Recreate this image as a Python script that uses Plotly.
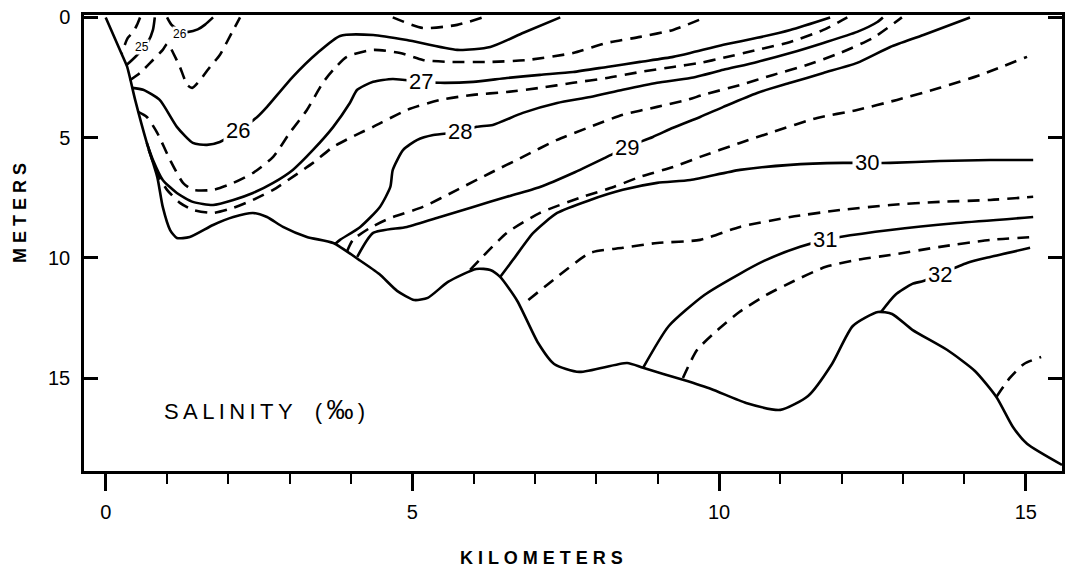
import plotly.graph_objects as go


# sea floor profile (km, m)
floor_km = [0, 0.28, 0.35, 0.48, 0.67, 0.84, 0.93, 1.05, 1.16, 1.37, 1.75, 2.08, 2.40, 2.63, 2.89,
            3.28, 3.71, 4.13, 4.46, 4.75, 5.03, 5.25, 5.58, 6.04, 6.27, 6.43, 6.71, 7.05, 7.31,
            7.72, 8.50, 8.76, 9.41, 9.87, 10.44, 11.00, 11.45, 11.84, 12.18, 12.59, 12.82, 13.15,
            13.72, 14.17, 14.52, 14.79, 15.02, 15.59]
floor_m = [0, 1.64, 2.06, 3.43, 5.22, 6.63, 7.88, 8.84, 9.17, 9.13, 8.63, 8.30, 8.13, 8.30, 8.71,
           9.13, 9.38, 10.08, 10.67, 11.37, 11.75, 11.66, 11.00, 10.46, 10.50, 10.79, 11.79, 13.54,
           14.41, 14.74, 14.37, 14.57, 15.07, 15.45, 16.03, 16.32, 15.74, 14.41, 12.83, 12.25, 12.33,
           12.99, 13.83, 14.70, 15.78, 17.03, 17.73, 18.61]

# isohalines, solid = whole values, dashed = half values
d245_km = [0.56, 0.51, 0.45, 0.36, 0.26]
d245_m = [0, 0.31, 0.60, 0.85, 1.5]

s25_km = [0.80, 0.77, 0.69, 0.56, 0.43, 0.33]
s25_m = [0, 0.52, 1.02, 1.43, 1.77, 2.0]

d255_km = [0.39, 0.56, 0.77, 0.93, 1.00, 1.05, 1.10, 1.21, 1.33, 1.41, 1.54, 1.70, 1.86, 2.08, 2.19]
d255_m = [2.62, 2.31, 1.77, 1.35, 1.10, 1.23, 1.48, 2.06, 2.81, 2.93, 2.60, 2.06, 1.56, 0.52, 0]

s26top_km = [1.00, 1.07, 1.20, 1.35, 1.50, 1.62, 1.75]
s26top_m = [0, 0.30, 0.55, 0.60, 0.50, 0.30, 0]

s26_km = [0.43, 0.61, 0.88, 1.16, 1.42, 1.65, 1.86, 2.16, 2.47, 2.63, 3.05, 3.45, 3.82, 4.36, 4.91,
          5.73, 6.27, 6.81, 7.41]
s26_m = [2.93, 3.01, 3.43, 4.55, 5.22, 5.30, 5.18, 4.72, 4.14, 3.72, 2.47, 1.48, 0.77, 0.73, 0.94,
         1.35, 1.23, 0.64, 0]

d265top_km = [4.68, 5.17, 5.73, 6.15]
d265top_m = [0, 0.44, 0.31, 0]

d265_km = [0.53, 0.67, 0.84, 1.05, 1.26, 1.42, 1.75, 2.08, 2.40, 2.73, 3.00, 3.28, 3.54, 3.71, 3.93,
           4.36, 4.80, 5.17, 5.61, 6.27, 6.87, 7.62, 8.17, 8.71, 9.25, 9.77]
d265_m = [3.93, 4.14, 4.80, 5.93, 6.88, 7.17, 7.17, 6.88, 6.47, 5.80, 4.80, 3.85, 2.72, 2.18, 1.64,
          1.35, 1.48, 1.77, 1.85, 1.85, 1.77, 1.48, 1.06, 0.81, 0.52, 0]

s27_km = [0.67, 0.77, 0.93, 1.16, 1.42, 1.75, 2.08, 2.40, 2.73, 3.05, 3.38, 3.71, 3.98, 4.10, 4.36,
          4.68, 5.14, 5.45, 5.99, 6.54, 7.08, 7.62, 8.17, 8.71, 9.25, 9.53, 10.07, 10.62, 11.16, 11.81]
s27_m = [5.22, 5.93, 6.76, 7.30, 7.67, 7.80, 7.59, 7.30, 6.88, 6.34, 5.51, 4.55, 3.56, 3.01, 2.68,
         2.56, 2.68, 2.72, 2.68, 2.52, 2.39, 2.27, 2.06, 1.85, 1.64, 1.48, 1.14, 0.85, 0.52, 0]

d275_km = [0.70, 0.84, 1.00, 1.21, 1.42, 1.75, 2.08, 2.40, 2.73, 3.05, 3.38, 3.71, 4.15, 4.36, 4.91,
           5.45, 5.99, 6.54, 7.08, 7.62, 8.17, 8.71, 9.25, 9.69, 10.07, 10.62, 11.16, 11.70, 12.09]
d275_m = [5.5, 6.47, 7.17, 7.71, 8.00, 8.13, 7.92, 7.59, 7.17, 6.63, 6.05, 5.38, 4.80, 4.55, 3.85,
          3.43, 3.22, 3.10, 2.93, 2.72, 2.52, 2.27, 2.06, 1.89, 1.68, 1.35, 1.02, 0.52, 0]

s28_km = [3.74, 3.82, 4.15, 4.47, 4.64, 4.68, 4.85, 5.08, 5.34, 5.78, 6.05, 6.31, 6.80, 7.36, 7.90,
          8.43, 8.99, 9.53, 10.07, 10.62, 11.16, 11.70, 12.25, 12.58, 12.67]
s28_m = [9.42, 9.25, 8.71, 7.88, 7.05, 6.34, 5.51, 5.09, 4.89, 4.76, 4.55, 4.47, 3.97, 3.56, 3.31,
         3.01, 2.72, 2.52, 2.18, 1.85, 1.48, 1.06, 0.60, 0.19, 0]

d285_km = [3.93, 4.03, 4.31, 4.64, 5.17, 5.73, 6.27, 6.80, 7.36, 7.90, 8.43, 8.99, 9.48, 9.74, 10.34,
           10.88, 11.43, 11.97, 12.51, 12.98]
d285_m = [9.75, 9.25, 8.75, 8.34, 7.88, 7.17, 6.47, 5.80, 5.09, 4.55, 4.05, 3.72, 3.43, 3.22, 2.81,
          2.39, 1.98, 1.48, 0.85, 0]

s29_km = [4.10, 4.36, 4.91, 5.45, 5.99, 6.54, 7.08, 7.62, 8.17, 8.50, 8.92, 9.25, 9.69, 10.07, 10.62,
          11.16, 11.70, 12.25, 12.79, 13.33, 14.09]
s29_m = [9.96, 8.96, 8.71, 8.30, 7.88, 7.46, 7.05, 6.47, 5.80, 5.39, 4.97, 4.59, 4.14, 3.72, 3.14,
         2.72, 2.31, 1.89, 1.23, 0.73, 0]

d295_km = [5.94, 6.54, 7.08, 7.73, 8.28, 8.71, 9.25, 9.69, 10.34, 10.88, 11.60, 12.25, 12.90, 13.60,
           14.26, 15.02]
d295_m = [10.5, 8.96, 8.13, 7.50, 7.05, 6.63, 6.22, 5.80, 5.22, 4.76, 4.18, 3.85, 3.43, 2.93, 2.39,
          1.64]

s30_km = [6.43, 6.64, 6.97, 7.36, 7.90, 8.43, 8.99, 9.53, 10.34, 11.16, 12.02, 12.41, 12.79, 13.60,
          14.42, 15.12]
s30_m = [10.79, 10.08, 8.96, 8.13, 7.59, 7.17, 6.88, 6.76, 6.34, 6.13, 6.05, 6.05, 6.05, 5.97, 5.93,
         5.93]

d305_km = [6.89, 7.36, 7.90, 8.43, 8.99, 9.69, 10.34, 11.16, 11.97, 12.79, 13.60, 14.42, 15.12]
d305_m = [11.75, 10.79, 9.79, 9.58, 9.38, 9.25, 8.71, 8.30, 8.01, 7.80, 7.67, 7.59, 7.46]

s31_km = [8.76, 9.18, 9.76, 10.33, 10.77, 11.32, 11.73, 11.97, 12.79, 13.88, 15.12]
s31_m = [14.57, 12.83, 11.54, 10.67, 10.08, 9.54, 9.25, 9.13, 8.84, 8.55, 8.30]

d315_km = [9.41, 9.64, 9.98, 10.33, 10.77, 11.22, 11.74, 12.25, 12.79, 13.60, 14.42, 15.12]
d315_m = [14.99, 13.83, 12.99, 12.25, 11.54, 10.96, 10.37, 10.08, 9.88, 9.54, 9.25, 9.13]

s32_km = [12.64, 12.87, 13.15, 13.33, 13.60, 14.04, 14.42, 15.07]
s32_m = [12.25, 11.54, 11.08, 10.96, 10.67, 10.21, 9.96, 9.58]

d325_km = [14.52, 14.74, 14.97, 15.25]
d325_m = [15.78, 14.99, 14.41, 14.12]

# contour labels
label_text = ["26", "27", "28", "29", "30", "31", "32"]
label_km = [2.16, 5.14, 5.78, 8.50, 12.41, 11.73, 13.60]
label_m = [4.72, 2.68, 4.76, 5.39, 6.05, 9.25, 10.67]

small_text = ["25", "26"]
small_km = [0.59, 1.21]
small_m = [1.23, 0.69]

x_ticks = [0, 5, 10, 15]
y_ticks = [0, 5, 10, 15]


contours = [
    (floor_km, floor_m, "solid"),
    (d245_km, d245_m, "dash"),
    (s25_km, s25_m, "solid"),
    (d255_km, d255_m, "dash"),
    (s26top_km, s26top_m, "solid"),
    (s26_km, s26_m, "solid"),
    (d265top_km, d265top_m, "dash"),
    (d265_km, d265_m, "dash"),
    (s27_km, s27_m, "solid"),
    (d275_km, d275_m, "dash"),
    (s28_km, s28_m, "solid"),
    (d285_km, d285_m, "dash"),
    (s29_km, s29_m, "solid"),
    (d295_km, d295_m, "dash"),
    (s30_km, s30_m, "solid"),
    (d305_km, d305_m, "dash"),
    (s31_km, s31_m, "solid"),
    (d315_km, d315_m, "dash"),
    (s32_km, s32_m, "solid"),
    (d325_km, d325_m, "dash"),
]

fig = go.Figure()

for xs, ys, style in contours:
    fig.add_trace(go.Scatter(
        x=xs,
        y=ys,
        mode="lines",
        line=dict(
            color="black",
            width=2.6,
            dash="solid" if style == "solid" else "12px,8px",
            shape="spline",
            smoothing=0.6
        ),
        hoverinfo="skip"
    ))

font_name = "Liberation Sans"

for t, x, y in zip(label_text, label_km, label_m):
    fig.add_annotation(
        x=x, y=y, text=t, showarrow=False,
        font=dict(family=font_name, size=22, color="black"),
        bgcolor="white", borderpad=2
    )

for t, x, y in zip(small_text, small_km, small_m):
    fig.add_annotation(
        x=x, y=y, text=t, showarrow=False,
        font=dict(family=font_name, size=12, color="black"),
        bgcolor="white", borderpad=0
    )

salinity_title = "\u2009".join("SALINITY") + "\u2002\u2002(\u2009<span style='font-size:27px'>\u2030</span>\u2009)"
fig.add_annotation(
    x=0.92, y=16.32, xanchor="left", yanchor="middle",
    text=salinity_title,
    showarrow=False, font=dict(family=font_name, size=22, color="black")
)

fig.add_annotation(
    xref="paper", yref="paper", x=-0.0654, y=0.566, xanchor="center", yanchor="middle",
    text="M E T E R S", textangle=-90, showarrow=False,
    font=dict(family=font_name, size=18, color="black", weight="bold")
)

fig.add_annotation(
    xref="paper", yref="paper", x=0.468, y=-0.19, xanchor="center", yanchor="middle",
    text="K I L O M E T E R S", showarrow=False,
    font=dict(family=font_name, size=18, color="black", weight="bold")
)

# page body adds an 8px offset, so the figure is a bit smaller than the window
fig.update_layout(
    width=1065,
    height=566,
    margin=dict(l=76, r=11, t=7, b=103),
    plot_bgcolor="white",
    paper_bgcolor="white",
    showlegend=False,
    font=dict(family=font_name, size=20, color="black")
)

fig.update_xaxes(
    range=[-0.354, 15.59],
    tickvals=x_ticks,
    ticks="outside",
    ticklen=17,
    tickwidth=2.5,
    tickcolor="black",
    showline=True,
    linewidth=2.5,
    linecolor="black",
    mirror=True,
    showgrid=False,
    zeroline=False,
    automargin=False,
    ticklabelstandoff=4,
    minor=dict(ticks="outside", dtick=1, tick0=0, ticklen=10, tickwidth=2,
               tickcolor="black", showgrid=False)
)

fig.update_yaxes(
    range=[18.86, -0.1],
    tickvals=y_ticks,
    ticks="inside",
    ticklen=14,
    tickwidth=2.5,
    tickcolor="black",
    showline=True,
    linewidth=2.5,
    linecolor="black",
    mirror="ticks",
    showgrid=False,
    zeroline=False,
    automargin=False,
    ticklabeloverflow="allow",
    ticklabelstandoff=7
)

fig.write_html("out.html")
